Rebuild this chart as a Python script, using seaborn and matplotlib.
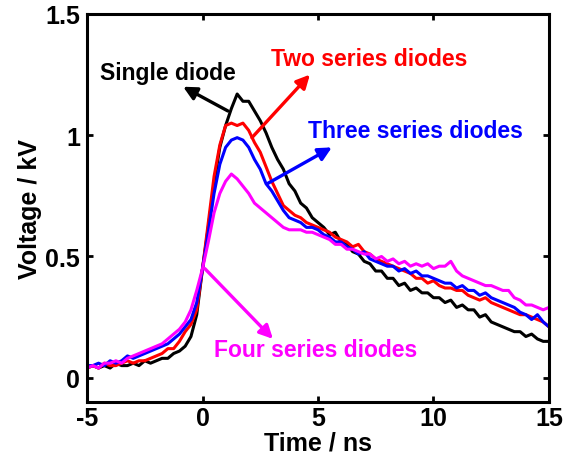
import numpy as np
import pandas as pd
import matplotlib
matplotlib.use("Agg")
import matplotlib.pyplot as plt
import seaborn as sns

# ---- data ----
time_ns = np.linspace(-5, 15, 81)

single = [0.04, 0.05, 0.04, 0.05, 0.04, 0.06, 0.05, 0.05, 0.06, 0.05,
          0.07, 0.06, 0.07, 0.08, 0.08, 0.10, 0.11, 0.13, 0.17, 0.26,
          0.45,
          0.62, 0.80, 0.95, 1.04, 1.11, 1.17, 1.14, 1.14, 1.10, 1.06,
          1.01, 0.95, 0.90, 0.86, 0.80, 0.77, 0.72, 0.70, 0.66, 0.64,
          0.62, 0.59, 0.60, 0.56, 0.55, 0.52, 0.51, 0.48, 0.47, 0.44,
          0.44, 0.41, 0.41, 0.38, 0.39, 0.36, 0.37, 0.35, 0.35, 0.33,
          0.33, 0.31, 0.32, 0.29, 0.30, 0.28, 0.28, 0.25, 0.26, 0.23,
          0.22, 0.21, 0.20, 0.19, 0.19, 0.17, 0.18, 0.16, 0.15, 0.15]

two = [0.04, 0.05, 0.04, 0.06, 0.05, 0.05, 0.06, 0.07, 0.06, 0.07,
       0.07, 0.08, 0.09, 0.10, 0.12, 0.12, 0.15, 0.19, 0.22, 0.28,
       0.45,
       0.64, 0.83, 0.96, 1.04, 1.05, 1.04, 1.05, 1.02, 0.97, 0.93,
       0.87, 0.81, 0.76, 0.71, 0.69, 0.67, 0.66, 0.64, 0.63, 0.62,
       0.61, 0.60, 0.58, 0.57, 0.56, 0.54, 0.55, 0.52, 0.51, 0.49,
       0.48, 0.47, 0.46, 0.45, 0.44, 0.43, 0.41, 0.41, 0.39, 0.40,
       0.38, 0.37, 0.37, 0.36, 0.36, 0.34, 0.33, 0.32, 0.33, 0.31,
       0.30, 0.29, 0.28, 0.27, 0.26, 0.26, 0.25, 0.24, 0.23, 0.21]

three = [0.05, 0.05, 0.06, 0.05, 0.07, 0.06, 0.07, 0.09, 0.08, 0.09,
         0.10, 0.11, 0.12, 0.13, 0.14, 0.16, 0.18, 0.21, 0.24, 0.31,
         0.45,
         0.60, 0.76, 0.88, 0.95, 0.98, 0.99, 0.98, 0.95, 0.90, 0.86,
         0.80, 0.77, 0.73, 0.69, 0.66, 0.65, 0.64, 0.62, 0.62, 0.61,
         0.59, 0.58, 0.56, 0.56, 0.54, 0.53, 0.51, 0.52, 0.49, 0.48,
         0.47, 0.46, 0.46, 0.44, 0.45, 0.43, 0.44, 0.42, 0.42, 0.41,
         0.40, 0.39, 0.39, 0.37, 0.38, 0.36, 0.36, 0.34, 0.35, 0.33,
         0.32, 0.31, 0.30, 0.29, 0.27, 0.26, 0.24, 0.26, 0.23, 0.21]

four = [0.04, 0.05, 0.04, 0.06, 0.06, 0.07, 0.06, 0.08, 0.09, 0.10,
        0.11, 0.12, 0.13, 0.14, 0.16, 0.18, 0.20, 0.23, 0.28, 0.36,
        0.45,
        0.56, 0.68, 0.76, 0.81, 0.84, 0.82, 0.79, 0.76, 0.72, 0.70,
        0.68, 0.66, 0.64, 0.62, 0.61, 0.61, 0.61, 0.60, 0.60, 0.59,
        0.58, 0.57, 0.55, 0.55, 0.53, 0.53, 0.52, 0.51, 0.51, 0.49,
        0.50, 0.48, 0.49, 0.47, 0.48, 0.46, 0.47, 0.46, 0.47, 0.45,
        0.46, 0.46, 0.48, 0.44, 0.42, 0.41, 0.40, 0.39, 0.38, 0.38,
        0.37, 0.36, 0.36, 0.33, 0.32, 0.30, 0.30, 0.29, 0.28, 0.29]

series_names = ["Single diode", "Two series diodes", "Three series diodes", "Four series diodes"]
series_colors = ["#000000", "#ff0000", "#0000ff", "#ff00ff"]
x_ticks = [-5, 0, 5, 10, 15]
y_ticks = [0, 0.5, 1, 1.5]
y_tick_labels = ["0", "0.5", "1", "1.5"]

df = pd.concat([
    pd.DataFrame({"Time": time_ns, "Voltage": vals, "Series": name})
    for name, vals in zip(series_names, [single, two, three, four])
], ignore_index=True)

# ---- style ----
sns.set_style("ticks")
plt.rcParams["font.family"] = ["Liberation Sans", "DejaVu Sans"]
plt.rcParams["font.weight"] = "bold"
for key in ["text.color", "axes.labelcolor", "xtick.color", "ytick.color", "axes.edgecolor"]:
    plt.rcParams[key] = "black"

fig = plt.figure(figsize=(5.74, 4.64), dpi=100)
ax = fig.add_axes([0.1516, 0.1315, 0.8048, 0.8362])

sns.lineplot(data=df, x="Time", y="Voltage", hue="Series",
             hue_order=series_names, palette=series_colors,
             linewidth=2.2, legend=False, ax=ax, estimator=None, sort=False)

ax.set_xlim(-5, 15)
ax.set_ylim(-0.1, 1.5)
ax.set_xticks(x_ticks)
ax.set_xticklabels([str(v) for v in x_ticks])
ax.set_yticks(y_ticks)
ax.set_yticklabels(y_tick_labels)
ax.tick_params(direction="in", length=4, width=2, labelsize=18,
               top=True, right=True, colors="black")
ax.tick_params(axis="x", pad=3)
ax.tick_params(axis="y", pad=5)
for lab in ax.get_xticklabels() + ax.get_yticklabels():
    lab.set_fontweight("bold")
for sp in ax.spines.values():
    sp.set_visible(True)
    sp.set_linewidth(2.2)
    sp.set_color("black")

ax.set_xlabel("Time / ns", fontsize=18, fontweight="bold", labelpad=0)
ax.set_ylabel("Voltage / kV", fontsize=18, fontweight="bold", labelpad=2)

# ---- annotations ----
ann = [
    ("Single diode", (-1.48, 1.26), (1.1, 1.10), (-0.84, 1.20), series_colors[0]),
    ("Two series diodes", (7.2, 1.315), (2.14, 0.99), (4.65, 1.25), series_colors[1]),
    ("Three series diodes", (9.24, 1.02), (2.8, 0.80), (5.6, 0.95), series_colors[2]),
    ("Four series diodes", (4.9, 0.115), (0.1, 0.45), (3.05, 0.16), series_colors[3]),
]
for text, pos, tail, head, c in ann:
    ax.text(pos[0], pos[1], text, color=c, fontsize=16.5, fontweight="bold",
            ha="center", va="center")
    ax.annotate("", xy=head, xytext=tail,
                arrowprops=dict(arrowstyle="-|>", color=c, lw=2.4,
                                mutation_scale=20, shrinkA=0, shrinkB=0))

fig.savefig("out.png", dpi=100)
